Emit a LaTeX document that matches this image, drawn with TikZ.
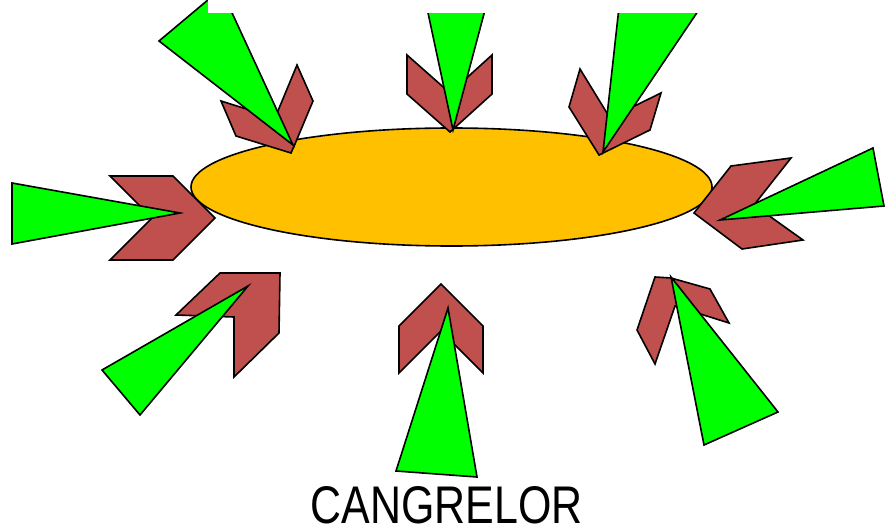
\documentclass[tikz,border=0pt]{standalone}
\usepackage{fontspec}
\newfontfamily\labfont[FakeStretch=0.81]{Liberation Sans}
\usetikzlibrary{shapes.geometric}
\definecolor{plt}{HTML}{FFC000}
\definecolor{rec}{HTML}{C0504D}
\definecolor{ago}{HTML}{00FF00}

\begin{document}
\begin{tikzpicture}[x=1pt, y=-1pt,
    cell/.style={draw, ellipse, line width=1.6pt, fill=plt, minimum width=521pt, minimum height=118pt, inner sep=0pt},
    chev/.style={draw, line width=1.6pt, fill=rec},
    wedge/.style={draw, line width=1.6pt, fill=ago},
    lbl/.style={font=\labfont\fontsize{53}{60}\selectfont, inner sep=0pt, text depth=0pt, anchor=base}
]
\useasboundingbox (0,0) rectangle (885,529);
\clip (0,0) rectangle (885,529);

% platelet
\node[cell] (plt) at (451.5,187) {};

% receptors
\draw[chev] (110,176) -- (173,176) -- (215,218) -- (173,260) -- (110,260) -- (152,218) -- cycle;
\draw[chev] (221,101) -- (236,136) -- (291,153) -- (295,144) -- (313,101) -- (297,65) -- (275,118) -- cycle;
\draw[chev] (407,55) -- (407,94) -- (450,132) -- (492,94) -- (492,55) -- (450,93) -- cycle;
\draw[chev] (580,69) -- (569,107) -- (599,155) -- (650,130) -- (661,93) -- (610,118) -- cycle;
\draw[chev] (694,213) -- (731,166) -- (791,158) -- (754,205) -- (803,240) -- (742,249) -- cycle;
\draw[chev] (220,273) -- (280,273) -- (279,333) -- (234,377) -- (234,317) -- (176,315) -- cycle;
\draw[chev] (441,284) -- (483,326) -- (483,373) -- (441,331) -- (399,373) -- (399,326) -- cycle;
\draw[chev] (655,277) -- (671,278) -- (710,289) -- (729,323) -- (675,306) -- (655,364) -- (637,330) -- cycle;

% agonists
\draw[wedge] (12,183) -- (180,213) -- (12,244) -- cycle;
\draw[wedge] (159,41) -- (221,-11) -- (293,145) -- cycle;
\draw[wedge] (421,-20) -- (493,-20) -- (453,130) -- cycle;
\draw[wedge] (622,-20) -- (719,-20) -- (603,152) -- cycle;
\draw[wedge] (720,220) -- (873,148) -- (884,206) -- cycle;
\draw[wedge] (102,370) -- (248,286) -- (140,415) -- cycle;
\draw[wedge] (448,308) -- (477,477) -- (396,471) -- cycle;
\draw[wedge] (671,277) -- (778,412) -- (704,445) -- cycle;

% cover at the top
\fill[white] (208,-30) rectangle (730,13);

\node[lbl] (name) at (446.5,523) {CANGRELOR};
\end{tikzpicture}
\end{document}
